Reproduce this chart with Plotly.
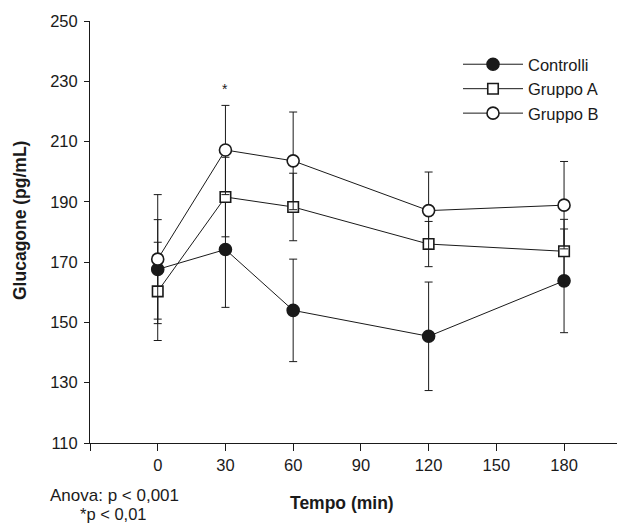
import plotly.graph_objects as go

time_min = [0, 30, 60, 120, 180]

controlli = [167.6, 174.2, 154.0, 145.4, 163.8]
controlli_err = [16.5, 19.2, 17.0, 18.0, 17.2]

gruppo_a = [160.3, 191.6, 188.3, 176.0, 173.6]
gruppo_a_err = [16.3, 13.2, 11.2, 7.5, 10.6]

gruppo_b = [171.0, 207.2, 203.6, 187.1, 188.9]
gruppo_b_err = [21.4, 14.8, 16.2, 12.8, 14.5]

x_ticks = [-30, 0, 30, 60, 90, 120, 150, 180]
x_ticktext = ["", "0", "30", "60", "90", "120", "150", "180"]
y_ticks = [110, 130, 150, 170, 190, 210, 230, 250]

# page has an 8px body margin; figure placed inside it
OFF = 8
W, H = 617, 516
L, R, T, B = 82, 0, 13, 81
PW, PH = W - L - R, H - T - B


def px_x(p):
    return (p - OFF - L) / PW


def px_y(p):
    return (OFF + H - B - p) / PH


FONT = "Liberation Sans, Arial, sans-serif"
BLACK = "#1a1a1a"

fig = go.Figure()


def add_series(name, y, err, symbol, fill):
    fig.add_trace(go.Scatter(
        x=time_min, y=y, name=name, mode="lines+markers",
        line=dict(color=BLACK, width=1),
        marker=dict(symbol=symbol, size=12 if "circle" in symbol else 10.5,
                    color=fill, line=dict(color=BLACK, width=1.6)),
        error_y=dict(type="data", array=err, visible=True, color=BLACK,
                     thickness=1, width=4),
    ))


add_series("Controlli", controlli, controlli_err, "circle", BLACK)
add_series("Gruppo A", gruppo_a, gruppo_a_err, "square", "white")
add_series("Gruppo B", gruppo_b, gruppo_b_err, "circle", "white")

fig.update_layout(
    width=W, height=H,
    margin=dict(l=L, r=R, t=T, b=B, pad=0),
    paper_bgcolor="white", plot_bgcolor="white",
    font=dict(family=FONT, size=16, color=BLACK),
    showlegend=True,
    legend=dict(x=px_x(458), y=px_y(47), xanchor="left", yanchor="top",
                bgcolor="rgba(0,0,0,0)", font=dict(size=16.5),
                itemwidth=60, tracegroupgap=0),
    xaxis=dict(range=[-30, 207], tickvals=x_ticks, ticktext=x_ticktext,
               showline=True, linecolor=BLACK, linewidth=1,
               ticks="outside", ticklen=7, tickcolor=BLACK, tickwidth=1,
               tickfont=dict(size=16.5),
               showgrid=False, zeroline=False),
    yaxis=dict(range=[110, 250], tickvals=y_ticks,
               showline=True, linecolor=BLACK, linewidth=1,
               ticks="outside", ticklen=5, tickcolor=BLACK, tickwidth=1,
               ticklabelstandoff=3, tickfont=dict(size=16.5),
               showgrid=False, zeroline=False),
    annotations=[
        dict(x=30, y=227.5, xref="x", yref="y", text="*", showarrow=False,
             font=dict(size=14), xanchor="center", yanchor="middle"),
        dict(x=px_x(342), y=px_y(503), xref="paper", yref="paper",
             text="<b>Tempo (min)</b>", showarrow=False, font=dict(size=17.5),
             xanchor="center", yanchor="middle"),
        dict(x=px_x(20), y=px_y(221), xref="paper", yref="paper",
             text="<b>Glucagone (pg/mL)</b>", showarrow=False, textangle=-90,
             font=dict(size=17.5), xanchor="center", yanchor="middle"),
        dict(x=px_x(114), y=px_y(495), xref="paper", yref="paper",
             text="Anova: p < 0,001", showarrow=False, font=dict(size=17),
             xanchor="center", yanchor="middle"),
        dict(x=px_x(113), y=px_y(514), xref="paper", yref="paper",
             text="*p < 0,01", showarrow=False, font=dict(size=16.5),
             xanchor="center", yanchor="middle"),
    ],
)

fig.write_html("out.html")
